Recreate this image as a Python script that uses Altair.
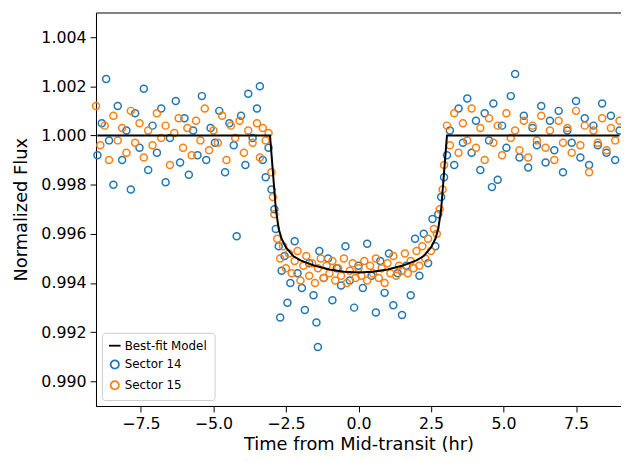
import altair as alt
import pandas as pd

s14_t = [-9.0,-8.85,-8.7,-8.6,-8.45,-8.3,-8.15,-8.0,-7.85,-7.7,-7.55,-7.4,-7.25,-7.1,-6.95,-6.8,-6.65,-6.5,-6.3,-6.15,-6.0,-5.85,-5.7,-5.55,-5.4,-5.25,-5.1,-4.95,-4.8,-4.6,-4.45,-4.3,-4.2,-4.05,-3.9,-3.8,-3.65,-3.5,-3.4,-3.3,-3.2,-3.1,
         -3.0,-2.9,-2.85,-2.75,-2.65,-2.55,-2.45,-2.35,-2.2,-2.1,-1.95,-1.85,-1.7,-1.55,-1.45,-1.35,-1.2,-1.05,-0.9,-0.75,-0.6,-0.45,-0.3,-0.15,0.0,0.15,0.3,0.45,0.6,0.75,0.9,1.05,1.2,1.35,1.5,1.65,1.8,1.95,2.1,2.25,2.4,2.55,2.65,2.75,2.85,2.95,-1.4,-2.7,
         3.05,3.15,3.3,3.45,3.6,3.75,3.9,4.05,4.2,4.35,4.5,4.65,4.8,4.95,5.1,5.25,5.4,5.55,5.7,5.85,6.0,6.15,6.3,6.45,6.6,6.75,6.9,7.05,7.2,7.35,7.5,7.65,7.8,7.95,8.1,8.25,8.4,8.55,8.7,8.85,9.0,4.6]
s14_f = [0.9992,1.0005,1.0023,0.9998,0.9980,1.0012,0.9990,1.0002,0.9978,1.0009,0.9995,1.0019,0.9986,1.0004,0.9993,1.0011,0.9981,0.9999,1.0014,0.9989,1.0007,0.9984,1.0002,0.9992,1.0016,0.9990,1.0003,0.9997,1.0010,0.9985,1.0005,0.9996,0.9959,1.0008,0.9988,1.0017,0.9999,1.0011,1.0020,0.9990,0.9983,0.9995,
         0.9978,0.9970,0.9962,0.9955,0.9945,0.9951,0.9932,0.9940,0.9957,0.9944,0.9938,0.9929,0.9948,0.9935,0.9924,0.9953,0.9942,0.9950,0.9933,0.9946,0.9939,0.9955,0.9941,0.9930,0.9947,0.9938,0.9956,0.9943,0.9928,0.9949,0.9936,0.9952,0.9931,0.9944,0.9927,0.9947,0.9935,0.9958,0.9943,0.9960,0.9948,0.9966,0.9955,0.9968,0.9975,0.9983,0.9914,0.9926,
         0.9992,1.0002,0.9988,1.0011,0.9997,1.0015,0.9993,1.0006,0.9986,1.0009,0.9998,1.0013,0.9982,1.0004,0.9995,1.0016,1.0025,0.9991,1.0008,0.9987,1.0003,0.9996,1.0012,0.9989,1.0006,0.9994,1.0010,0.9985,1.0002,0.9997,1.0014,0.9991,1.0007,0.9988,1.0004,0.9996,1.0013,0.9993,1.0008,0.9990,1.0002,0.9979]

s15_t = [-9.05,-8.9,-8.75,-8.6,-8.45,-8.3,-8.15,-8.0,-7.85,-7.7,-7.55,-7.4,-7.25,-7.1,-6.95,-6.8,-6.65,-6.5,-6.35,-6.2,-6.05,-5.9,-5.75,-5.6,-5.45,-5.3,-5.15,-5.0,-4.85,-4.7,-4.55,-4.4,-4.25,-4.1,-3.95,-3.8,-3.65,-3.5,-3.4,-3.3,-3.2,-3.1,
         -3.0,-2.95,-2.9,-2.8,-2.7,-2.6,-2.5,-2.4,-2.3,-2.2,-2.1,-2.0,-1.9,-1.8,-1.7,-1.6,-1.5,-1.4,-1.3,-1.2,-1.1,-1.0,-0.9,-0.8,-0.7,-0.6,-0.5,-0.4,-0.3,-0.2,-0.1,0.0,0.1,0.2,0.3,0.4,0.5,0.6,0.7,0.8,0.9,1.0,1.1,1.2,1.3,1.4,1.5,1.6,1.7,1.8,1.9,2.0,2.1,2.2,2.3,2.4,2.5,2.6,2.7,2.8,2.9,2.95,
         3.05,3.15,3.3,3.45,3.6,3.75,3.9,4.05,4.2,4.35,4.5,4.65,4.8,4.95,5.1,5.25,5.4,5.55,5.7,5.85,6.0,6.15,6.3,6.45,6.6,6.75,6.9,7.05,7.2,7.35,7.5,7.65,7.8,7.95,8.1,8.25,8.4,8.55,8.7,8.85,9.0]
s15_f = [1.0012,0.9996,1.0004,0.9990,1.0008,0.9998,1.0003,0.9993,1.0010,0.9997,1.0005,0.9991,1.0002,0.9996,1.0009,0.9999,1.0004,0.9988,1.0001,1.0007,0.9995,1.0003,0.9992,1.0006,0.9998,1.0011,0.9994,1.0002,0.9997,1.0008,0.9990,1.0004,0.9999,1.0006,0.9993,1.0002,0.9997,1.0005,0.9991,1.0003,0.9998,1.0001,
         0.9985,0.9975,0.9968,0.9958,0.9950,0.9955,0.9946,0.9952,0.9944,0.9949,0.9953,0.9941,0.9947,0.9951,0.9943,0.9948,0.9940,0.9946,0.9950,0.9942,0.9947,0.9944,0.9949,0.9941,0.9946,0.9943,0.9950,0.9940,0.9945,0.9948,0.9942,0.9946,0.9943,0.9949,0.9941,0.9947,0.9944,0.9950,0.9942,0.9946,0.9940,0.9948,0.9944,0.9951,0.9943,0.9947,0.9945,0.9952,0.9944,0.9949,0.9946,0.9953,0.9947,0.9955,0.9950,0.9958,0.9953,0.9962,0.9960,0.9970,0.9978,0.9988,
         1.0004,0.9996,1.0009,0.9993,1.0005,0.9998,1.0011,0.9995,1.0003,0.9990,1.0007,0.9997,1.0004,0.9992,1.0009,0.9999,1.0002,0.9994,1.0006,0.9991,1.0004,0.9998,1.0008,0.9995,1.0002,0.9990,1.0006,0.9997,1.0003,0.9993,1.0010,0.9996,1.0004,0.9985,1.0002,0.9997,1.0007,0.9994,1.0003,0.9998,1.0006]

model_t = [-9.0,-3.05,-2.95,-2.85,-2.75,-2.65,-2.5,-2.25,-2.0,-1.5,-1.0,-0.5,0.0,0.5,1.0,1.5,2.0,2.25,2.5,2.65,2.75,2.85,2.95,3.05,9.0]
model_f = [1.0,1.0,0.9985,0.9970,0.9962,0.9958,0.99545,0.9951,0.99492,0.99470,0.99455,0.99446,0.99443,0.99446,0.99455,0.99470,0.99492,0.9951,0.99545,0.9958,0.9962,0.9970,0.9985,1.0,1.0]

pts = pd.concat([
    pd.DataFrame({"t": s14_t, "f": s14_f, "series": "Sector 14"}),
    pd.DataFrame({"t": s15_t, "f": s15_f, "series": "Sector 15"}),
])
mdl = pd.DataFrame({"t": model_t, "f": model_f, "series": "Best-fit Model"})

dom = ["Best-fit Model", "Sector 14", "Sector 15"]
color = alt.Color("series:N", scale=alt.Scale(domain=dom, range=["black", "#1f77b4", "#ff7f0e"]),
                  legend=alt.Legend(title=None, orient="bottom-left", offset=6, labelFontSize=12,
                                    labelFont="DejaVu Sans", labelColor="black",
                                    fillColor="white", strokeColor="#cccccc", padding=7, cornerRadius=3,
                                    symbolStrokeWidth=1.8, symbolSize=70, rowPadding=5, symbolOpacity=1))
shape = alt.Shape("series:N", scale=alt.Scale(domain=dom, range=["M-1.4,0L1.4,0", "circle", "circle"]),
                  legend=alt.Legend(title=None, orient="bottom-left"))

xs = alt.Scale(domain=[-9.05, 9.05], nice=False)
ys = alt.Scale(domain=[0.989, 1.005], nice=False)
axis_common = dict(labelFontSize=16, titleFontSize=18, tickColor="black", domainColor="black",
                   labelColor="black", titleColor="black", grid=False, tickSize=6, labelFont="DejaVu Sans",
                   titleFont="DejaVu Sans", titleFontWeight="normal", labelPadding=4)

points = alt.Chart(pts).mark_point(filled=False, size=50, strokeWidth=1.5, opacity=1).encode(
    x=alt.X("t:Q", scale=xs, axis=alt.Axis(title="Time from Mid-transit (hr)", values=[-7.5,-5,-2.5,0,2.5,5,7.5], format=".1f", **axis_common)),
    y=alt.Y("f:Q", scale=ys, axis=alt.Axis(title="Normalized Flux", values=[0.990,0.992,0.994,0.996,0.998,1.000,1.002,1.004], format=".3f", titlePadding=10, **axis_common)),
    color=color, shape=shape,
)
line = alt.Chart(mdl).mark_line(strokeWidth=2).encode(x="t:Q", y="f:Q", color=color)

chart = alt.layer(points, line).properties(width=531, height=398, padding={"left": 89, "top": 2, "right": 0, "bottom": 46},
                                            autosize="none").configure_view(stroke="black", strokeWidth=1)
chart.save("out.html", embed_options={"renderer": "svg", "actions": False})
